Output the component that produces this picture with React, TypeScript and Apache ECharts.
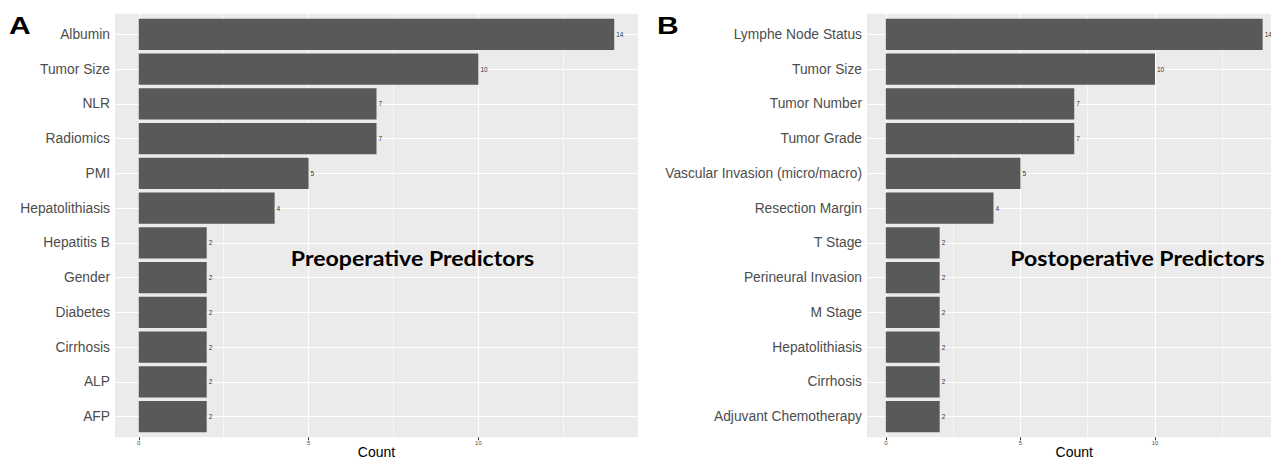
import React, { useEffect, useRef } from "react";
import * as echarts from "echarts";

const leftCategories = ["Albumin", "Tumor Size", "NLR", "Radiomics", "PMI", "Hepatolithiasis", "Hepatitis B", "Gender", "Diabetes", "Cirrhosis", "ALP", "AFP"];
const leftValues = [14, 10, 7, 7, 5, 4, 2, 2, 2, 2, 2, 2];
const rightCategories = ["Lymphe Node Status", "Tumor Size", "Tumor Number", "Tumor Grade", "Vascular Invasion (micro/macro)", "Resection Margin", "T Stage", "Perineural Invasion", "M Stage", "Hepatolithiasis", "Cirrhosis", "Adjuvant Chemotherapy"];
const rightValues = [14, 10, 7, 7, 5, 4, 2, 2, 2, 2, 2, 2];
const xTicks = [0, 5, 10];
const minorTicks = [2.5, 7.5, 12.5];
const xMin = -0.7;
const xMax = 14.7;

const FONT = "'Liberation Sans', Arial, sans-serif";
const BG_TOP = 13.7;
const BG_H = 423.6;
const DATA_TOP = 17.1;
const DATA_H = 416.8;

const panels = [
  { left: 115, width: 523, cats: leftCategories, vals: leftValues, title: "Preoperative Predictors", tx: 412.5, letter: "A", lx: 9 },
  { left: 867, width: 414.5, cats: rightCategories, vals: rightValues, title: "Postoperative Predictors", tx: 1137.5, letter: "B", lx: 657 },
];

export default function App() {
  const ref = useRef<HTMLDivElement>(null);
  useEffect(() => {
    document.body.style.margin = "0";
    const chart = echarts.init(ref.current!, null, { renderer: "svg" });
    const grid: any[] = [];
    const xAxis: any[] = [];
    const yAxis: any[] = [];
    const series: any[] = [];
    const graphic: any[] = [];
    panels.forEach((p, pi) => {
      const bgIdx = pi * 2;
      const dIdx = pi * 2 + 1;
      grid.push({ left: p.left, width: p.width, top: BG_TOP, height: BG_H, show: true, backgroundColor: "#ebebeb", borderWidth: 0, containLabel: false, outerBoundsMode: "none" });
      grid.push({ left: p.left, width: p.width, top: DATA_TOP, height: DATA_H, show: false, containLabel: false, outerBoundsMode: "none" });
      xAxis.push({
        gridIndex: bgIdx, type: "value", min: xMin, max: xMax, splitNumber: 3,
        axisLine: { show: false },
        axisTick: { show: true, length: 3, lineStyle: { color: "#333", width: 1 }, customValues: xTicks },
        axisLabel: { fontSize: 6, color: "#4d4d4d", margin: 3, fontFamily: FONT, customValues: xTicks,
          formatter: (v: number) => (xTicks.indexOf(v) >= 0 ? String(v) : "") },
        splitLine: { show: true, lineStyle: { color: "#ffffff", width: 1.1 } },
        name: "Count", nameLocation: "middle", nameGap: 15, nameMoveOverlap: false,
        nameTextStyle: { fontSize: 14, color: "#000", fontFamily: FONT, verticalAlign: "middle" },
      });
      xAxis.push({
        gridIndex: dIdx, type: "value", min: xMin, max: xMax, show: false,
        splitLine: { show: false },
      });
      yAxis.push({ gridIndex: bgIdx, type: "value", min: 0, max: 1, show: false, splitLine: { show: false } });
      yAxis.push({
        gridIndex: dIdx, type: "category", data: p.cats, inverse: true,
        axisLine: { show: false },
        axisTick: { show: true, alignWithLabel: true, length: 3, lineStyle: { color: "#333", width: 1 } },
        axisLabel: { fontSize: 13.8, color: "#4d4d4d", margin: 5, fontFamily: FONT, interval: 0 },
        splitLine: { show: false },
      });
      series.push({
        type: "line", xAxisIndex: bgIdx, yAxisIndex: bgIdx, data: [], silent: true,
        markLine: {
          silent: true, symbol: "none", z: 1, label: { show: false },
          lineStyle: { color: "#ffffff", width: 0.6, type: "solid" },
          data: minorTicks.map((t) => ({ xAxis: t })),
        },
      });
      series.push({
        type: "bar", xAxisIndex: dIdx, yAxisIndex: dIdx, data: p.vals, barWidth: "90%",
        itemStyle: { color: "#595959" }, z: 3,
        label: { show: true, position: "right", distance: 2, fontSize: 6.5, color: "#333", fontFamily: FONT },
        markLine: {
          silent: true, symbol: "none", z: 1, label: { show: false },
          lineStyle: { color: "#ffffff", width: 1.1, type: "solid" },
          data: p.cats.map((_, i) => ({ yAxis: i })),
        },
      });
      graphic.push({
        type: "text", x: p.tx, y: 257.5, scaleX: 1.1, z: 10,
        style: { text: p.title, fontSize: 21, fontWeight: "bold", fontFamily: "Lato, 'Open Sans', sans-serif", fill: "#000", align: "center", verticalAlign: "middle" },
      });
      graphic.push({
        type: "text", x: p.lx, y: 26, scaleX: 1.25, z: 10,
        style: { text: p.letter, fontSize: 24, fontWeight: "bold", fontFamily: FONT, fill: "#000", align: "left", verticalAlign: "middle" },
      });
    });
    chart.setOption({
      animation: false,
      backgroundColor: "#ffffff",
      grid, xAxis, yAxis, series, graphic,
    });
    return () => chart.dispose();
  }, []);
  return <div ref={ref} style={{ width: 1271, height: 460 }} />;
}
